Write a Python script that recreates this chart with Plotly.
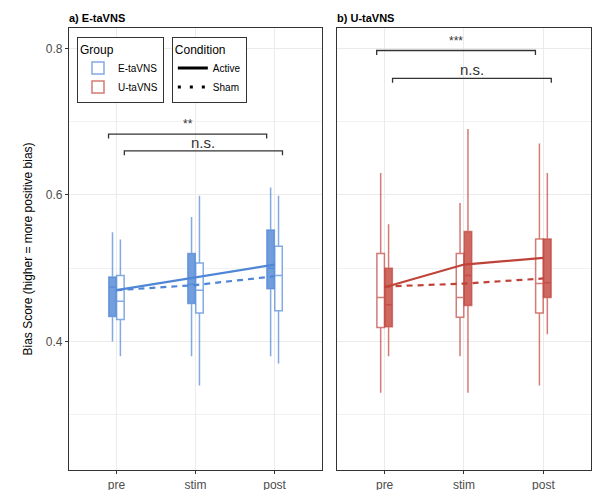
import plotly.graph_objects as go

# categories / conditions
sessions = ["pre", "stim", "post"]

# E-taVNS box stats (Active, Sham)
e_active_low = [0.400, 0.380, 0.380]
e_active_q1 = [0.434, 0.452, 0.472]
e_active_med = [0.474, 0.478, 0.500]
e_active_q3 = [0.488, 0.520, 0.552]
e_active_high = [0.549, 0.570, 0.610]

e_sham_low = [0.380, 0.340, 0.370]
e_sham_q1 = [0.430, 0.439, 0.442]
e_sham_med = [0.455, 0.470, 0.490]
e_sham_q3 = [0.490, 0.507, 0.530]
e_sham_high = [0.539, 0.599, 0.599]

# U-taVNS box stats
u_active_low = [0.380, 0.330, 0.410]
u_active_q1 = [0.420, 0.449, 0.460]
u_active_med = [0.450, 0.490, 0.480]
u_active_q3 = [0.500, 0.550, 0.540]
u_active_high = [0.560, 0.690, 0.630]

u_sham_low = [0.330, 0.380, 0.340]
u_sham_q1 = [0.419, 0.433, 0.439]
u_sham_med = [0.460, 0.460, 0.479]
u_sham_q3 = [0.520, 0.520, 0.540]
u_sham_high = [0.630, 0.589, 0.670]

# means (connecting lines)
e_active_mean = [0.470, 0.488, 0.505]
e_sham_mean = [0.470, 0.477, 0.489]
u_active_mean = [0.474, 0.505, 0.514]
u_sham_mean = [0.475, 0.479, 0.486]

# significance brackets: (label, y)
e_brackets = [("**", 0.683), ("n.s.", 0.660)]
u_brackets = [("***", 0.797), ("n.s.", 0.759)]

E_COL = "#4f86d6"
E_FILL = "rgba(79,134,214,0.8)"
E_LINE = "rgba(79,134,214,0.7)"
U_COL = "#c0433a"
U_FILL = "rgba(192,67,58,0.8)"
U_LINE = "rgba(192,67,58,0.7)"

FONT = "Liberation Sans, Arial, sans-serif"
BW = 0.095
OFF = 0.05

fig = go.Figure()
pos = list(range(len(sessions)))


def add_box(xa, ya, shift, low, q1, med, q3, high, fill, line, name, legend):
    fig.add_trace(go.Box(
        x=[p + shift for p in pos], q1=q1, median=med, q3=q3,
        lowerfence=low, upperfence=high,
        width=BW, whiskerwidth=0, fillcolor=fill,
        line=dict(color=line, width=1.5),
        xaxis=xa, yaxis=ya, name=name,
        showlegend=legend is not None, legend=legend or "legend",
        boxpoints=False,
    ))


# E panel: Active left (filled), Sham right (hollow)
add_box("x", "y", -OFF, e_active_low, e_active_q1, e_active_med, e_active_q3, e_active_high,
        E_FILL, E_LINE, "E-taVNS active", None)
add_box("x", "y", OFF, e_sham_low, e_sham_q1, e_sham_med, e_sham_q3, e_sham_high,
        "white", E_LINE, "E-taVNS", "legend")
# U panel: Sham left (hollow), Active right (filled)
add_box("x2", "y2", -OFF, u_sham_low, u_sham_q1, u_sham_med, u_sham_q3, u_sham_high,
        "white", U_LINE, "U-taVNS", "legend")
add_box("x2", "y2", OFF, u_active_low, u_active_q1, u_active_med, u_active_q3, u_active_high,
        U_FILL, U_LINE, "U-taVNS active", None)

# mean lines
for xa, ya, vals, col, dash in [
    ("x", "y", e_active_mean, E_COL, "solid"),
    ("x", "y", e_sham_mean, E_COL, "6px,5px"),
    ("x2", "y2", u_active_mean, U_COL, "solid"),
    ("x2", "y2", u_sham_mean, U_COL, "6px,5px"),
]:
    fig.add_scatter(x=pos, y=vals, mode="lines", xaxis=xa, yaxis=ya,
                    line=dict(color=col, width=2.2, dash=dash), showlegend=False)

# condition legend keys
fig.add_scatter(x=[None], y=[None], mode="lines", name="Active",
                line=dict(color="black", width=3), legend="legend2")
fig.add_scatter(x=[None], y=[None], mode="lines", name="Sham",
                line=dict(color="black", width=3, dash="3px,9px"), legend="legend2")

# brackets
shapes, annos = [], []
for xr, yr, brs in [("x", "y", e_brackets), ("x2", "y2", u_brackets)]:
    for k, (lab, yv) in enumerate(brs):
        sh = -0.1 if k == 0 else 0.1
        x0, x1 = pos[0] + sh, pos[2] + sh
        tip = yv - 0.006
        shapes.append(dict(type="path", xref=xr, yref=yr,
                           path=f"M {x0} {tip} L {x0} {yv} L {x1} {yv} L {x1} {tip}",
                           line=dict(color="#333333", width=1.3)))
        big = lab == "n.s."
        annos.append(dict(x=(x0 + x1) / 2, y=yv, xref=xr, yref=yr, text=lab,
                          showarrow=False, yanchor="bottom", yshift=-2 if big else 1,
                          font=dict(family=FONT, size=15 if big else 12, color="#333333")))

annos += [
    dict(x=0, y=1.005, xref="paper", yref="paper", text="<b>a) E-taVNS</b>", showarrow=False,
         xanchor="left", yanchor="bottom", xshift=-2, font=dict(family=FONT, size=11, color="black")),
    dict(x=0.5134, y=1.005, xref="paper", yref="paper", text="<b>b) U-taVNS</b>", showarrow=False,
         xanchor="left", yanchor="bottom", xshift=-2, font=dict(family=FONT, size=11, color="black")),
]

axis_common = dict(
    showline=True, mirror=True, linecolor="#333333", linewidth=1.2,
    showgrid=True, gridcolor="#ebebeb", gridwidth=1, zeroline=False,
    ticks="outside", ticklen=3, tickcolor="#333333", automargin=False,
    tickfont=dict(family=FONT, size=12, color="#4d4d4d"),
)
xa = dict(axis_common, range=[-0.6, 2.6], tickvals=pos, ticktext=sessions)
ya = dict(axis_common, range=[0.2247, 0.8277], tickvals=[0.4, 0.6, 0.8],
          ticktext=["0.4", "0.6", "0.8"],
          minor=dict(tickvals=[0.3, 0.5, 0.7], showgrid=True, gridcolor="#f2f2f2", ticks=""))

fig.update_layout(
    width=597, height=490,
    margin=dict(l=69, r=6, t=28, b=20),
    paper_bgcolor="white", plot_bgcolor="white",
    boxmode="overlay",
    xaxis=dict(xa, domain=[0, 0.4847]),
    xaxis2=dict(xa, domain=[0.5134, 1], anchor="y2"),
    yaxis=dict(ya, title=dict(text="Bias Score (higher = more positive bias)",
                              font=dict(family=FONT, size=12, color="black"), standoff=10)),
    yaxis2=dict(ya, anchor="x2", showticklabels=False, ticks=""),
    shapes=shapes, annotations=annos,
    legend=dict(title=dict(text="Group", font=dict(family=FONT, size=12, color="black")),
                x=0.0153, y=0.9796, xanchor="left", yanchor="top",
                bgcolor="white", bordercolor="#333333", borderwidth=1,
                font=dict(family=FONT, size=10, color="black"), tracegroupgap=0),
    legend2=dict(title=dict(text="Condition", font=dict(family=FONT, size=12, color="black")),
                 x=0.197, y=0.9796, xanchor="left", yanchor="top",
                 bgcolor="white", bordercolor="#333333", borderwidth=1,
                 font=dict(family=FONT, size=10, color="black"), tracegroupgap=0),
)

fig.write_html("out.html", config={"displayModeBar": False},
               post_script="document.body.style.margin = '0';")
